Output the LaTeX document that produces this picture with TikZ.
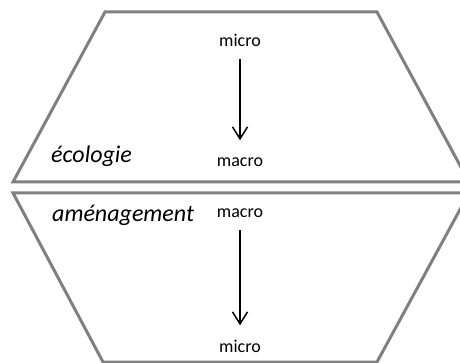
\documentclass[tikz,border=0pt]{standalone}
\usepackage{fontspec}
\setmainfont{Carlito}
\usetikzlibrary{arrows.meta}
\definecolor{framegrey}{RGB}{128,128,128}
\tikzset{
  base/.style={font=\fontsize{18}{20}\selectfont, inner sep=0pt, text height=9pt, text depth=0pt, anchor=base, text=black},
  field/.style={font=\fontsize{24}{28}\selectfont\itshape, inner sep=0pt, anchor=base west, text=black},
  frame/.style={draw=framegrey, line width=3pt, line join=miter},
  arr/.style={-{Straight Barb[length=12pt,width=15pt]}, line width=1.5pt, shorten <=12pt, shorten >=17.5pt},
}

\begin{document}
\begin{tikzpicture}[x=1pt,y=-1pt]
  \path[use as bounding box, clip] (0,0) rectangle (460,363);
  % frames
  \draw[frame] (105,12) -- (377,12) -- (469,182) -- (13,182) -- cycle;
  \draw[frame] (13,193) -- (469,193) -- (377,362) -- (103,362) -- cycle;
  % ecologie
  \node[field] (eco) at (51,163) {écologie};
  \node[base] (ecomicro) at (240,47) {micro};
  \node[base] (ecomacro) at (240,167) {macro};
  \draw[arr] (ecomicro) -- (ecomacro);
  % amenagement
  \node[field] (amen) at (52,222) {aménagement};
  \node[base] (amenmacro) at (240,218) {macro};
  \node[base] (amenmicro) at (240,352) {micro};
  \draw[arr] (amenmacro) -- (amenmicro);
\end{tikzpicture}
\end{document}
